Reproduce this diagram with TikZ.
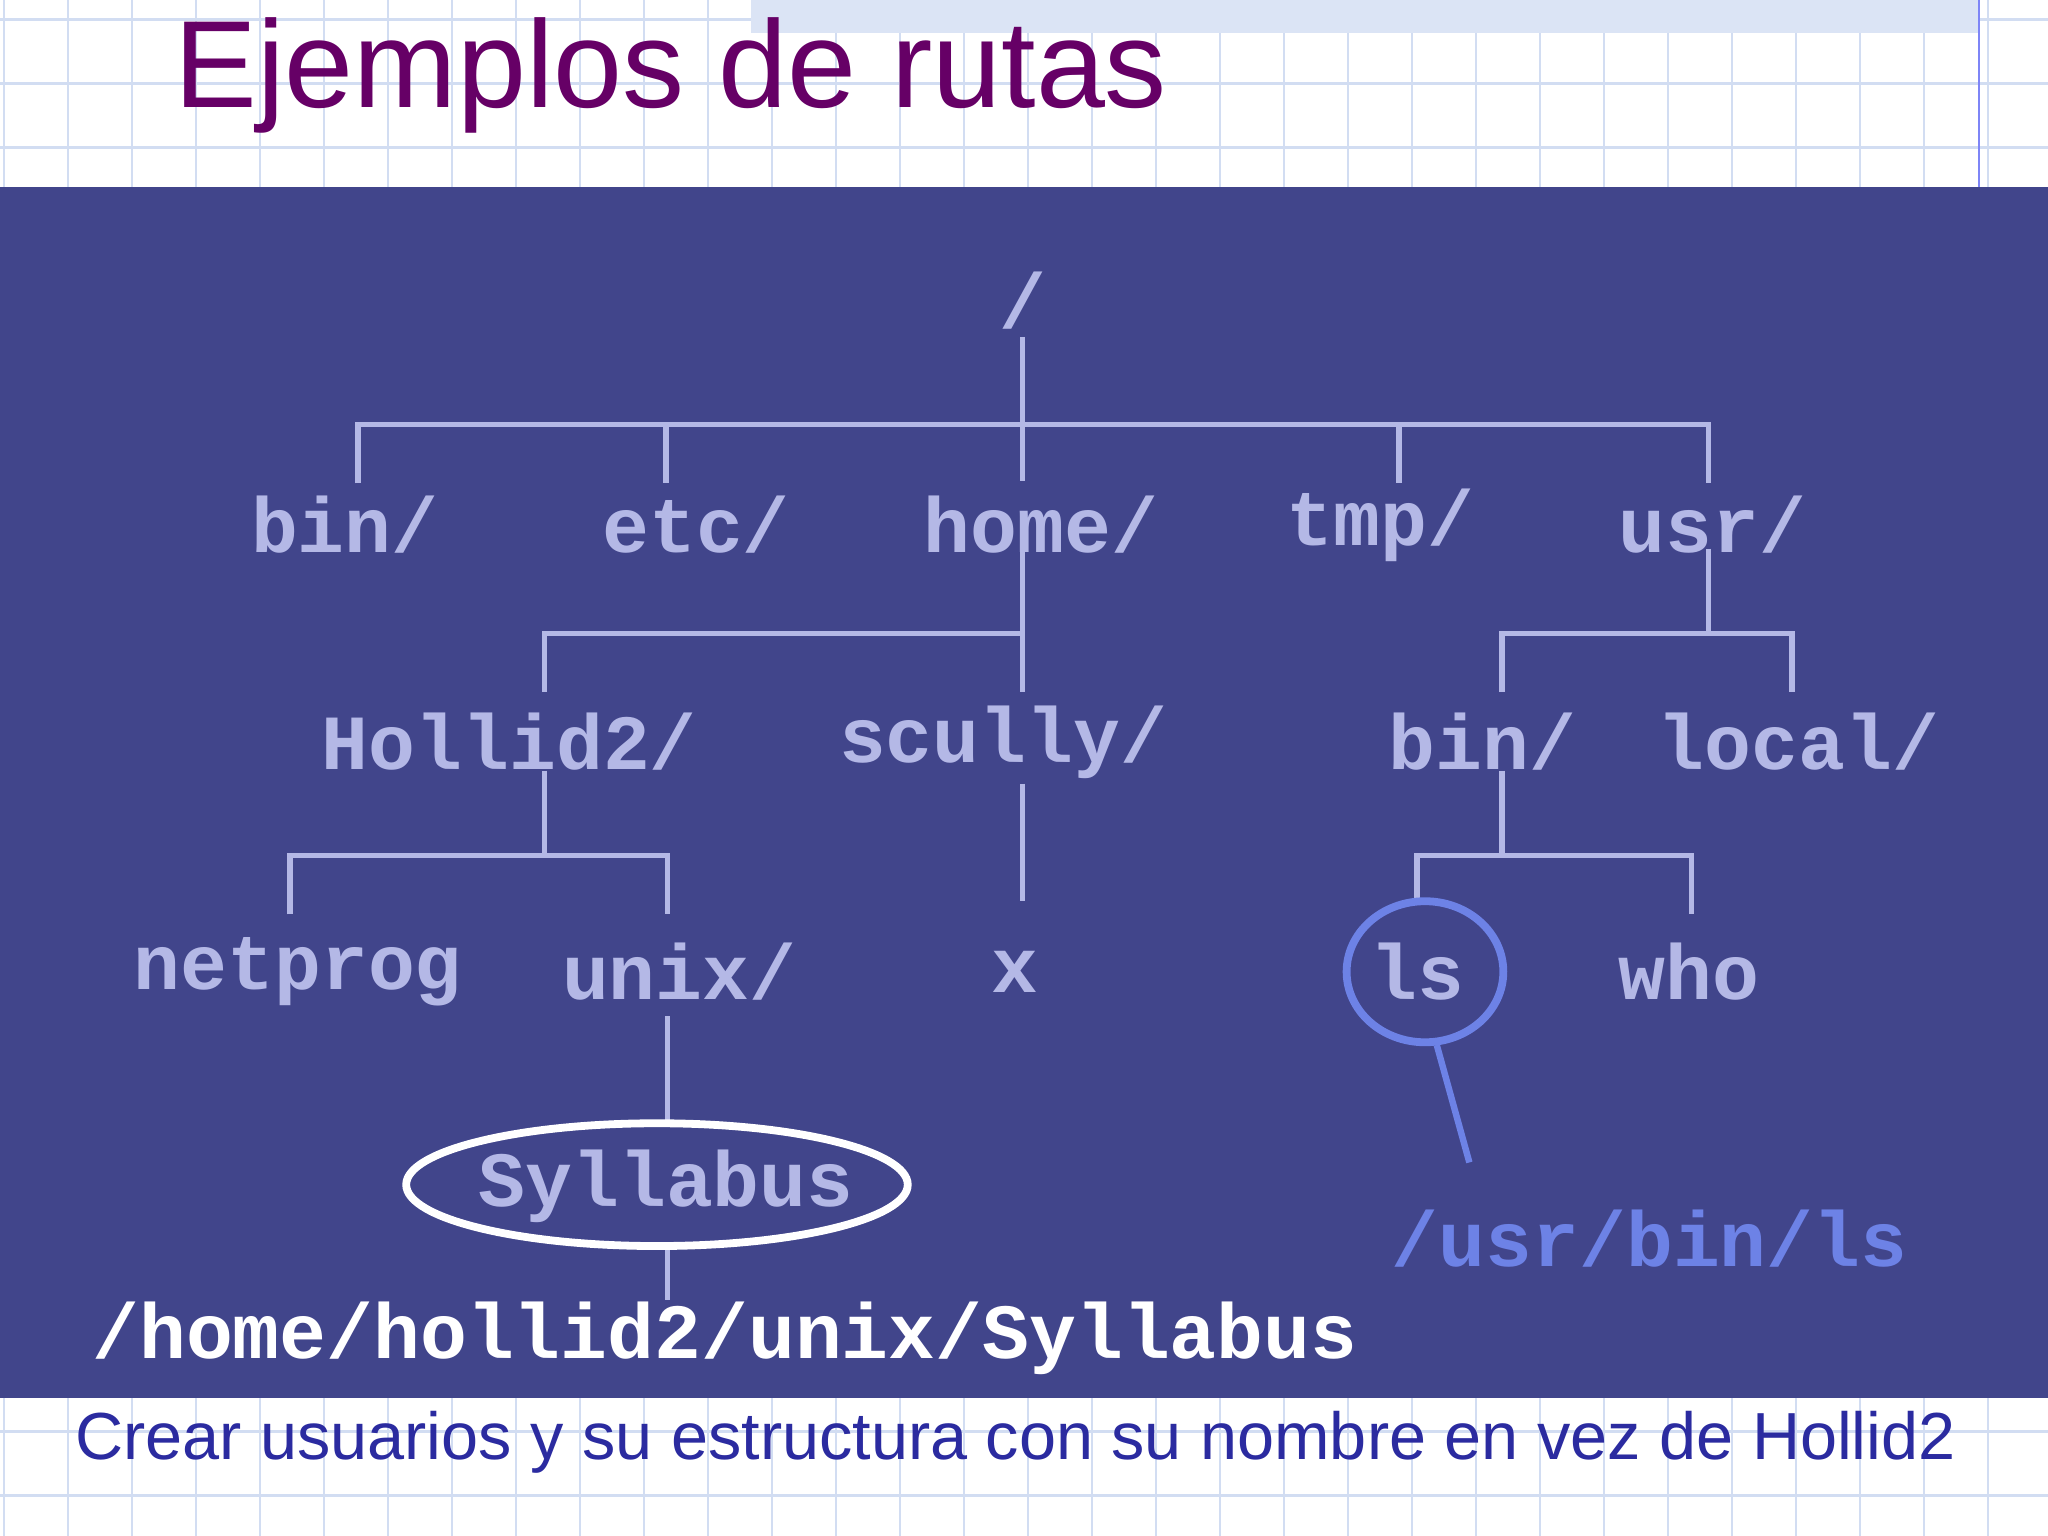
\documentclass[tikz,border=0pt]{standalone}
\usepackage{fontspec}
\setmainfont{Liberation Sans}
\newfontfamily\cour{Liberation Mono}
\definecolor{bgblue}{HTML}{41458B}
\definecolor{lav}{HTML}{B4B8E6}
\definecolor{lsblue}{HTML}{6D82E6}
\definecolor{gridc}{HTML}{D2DDF2}
\definecolor{titlec}{HTML}{660066}
\definecolor{subc}{HTML}{2B2BA0}
\tikzset{
 dir/.style={font=\cour\bfseries\fontsize{17}{17}\selectfont, text=lav, inner sep=0pt},
 tree/.style={draw=lav, line width=1.2pt},
}
\begin{document}
\begin{tikzpicture}[x=0.01cm,y=-0.01cm]
\useasboundingbox (0,0) rectangle (1568,1176);
\fill[white] (0,0) rectangle (1568,1176);
\foreach \x in {3,52,101,150,199,248,297,346,395,444,493,542,591,640,689,738,787,836,885,934,983,1032,1081,1130,1179,1228,1277,1326,1375,1424,1473,1522}
  \draw[gridc, line width=0.5pt] (\x,0) -- (\x,1176);
\foreach \y in {15,64,113,1096,1145}
  \draw[gridc, line width=0.5pt] (0,\y) -- (1568,\y);
\fill[gridc!80] (575,0) rectangle (1515,25);
\draw[gridc!60!blue, line width=0.4pt] (1515,0) -- (1515,143);
\node[anchor=west, text=titlec, font=\fontsize{27}{27}\selectfont, inner sep=0pt] (title) at (133,58) {Ejemplos de rutas};
\fill[bgblue] (0,143) rectangle (1568,1070);
\node[anchor=west, text=subc, font=\fontsize{14.5}{15}\selectfont, inner sep=0pt] (sub) at (57,1104) {Crear usuarios y su estructura con su nombre en vez de Hollid2};

% tree lines
\draw[tree] (783,258) -- (783,368);
\draw[tree] (274,370) -- (274,325) -- (1308,325) -- (1308,370);
\draw[tree] (510,325) -- (510,370);
\draw[tree] (1071,325) -- (1071,370);
\draw[tree] (783,420) -- (783,530);
\draw[tree] (417,530) -- (417,485) -- (783,485);
\draw[tree] (1308,420) -- (1308,485);
\draw[tree] (1150,530) -- (1150,485) -- (1372,485) -- (1372,530);
\draw[tree] (417,590) -- (417,655);
\draw[tree] (222,700) -- (222,655) -- (511,655) -- (511,700);
\draw[tree] (783,600) -- (783,690);
\draw[tree] (1150,590) -- (1150,655);
\draw[tree] (1085,690) -- (1085,655) -- (1295,655) -- (1295,700);
\draw[tree] (511,778) -- (511,860);
\draw[tree] (511,955) -- (511,995);

% nodes
\node[dir] (root) at (783,230) {/};
\node[dir] (bin) at (264,402) {bin/};
\node[dir] (etc) at (533,402) {etc/};
\node[dir] (home) at (797,402) {home/};
\node[dir] (tmp) at (1057,402) {tmp/};
\node[dir] (usr) at (1311,402) {usr/};
\node[dir] (hol) at (390,568) {Hollid2/};
\node[dir] (scully) at (768,568) {scully/};
\node[dir] (ubin) at (1135,568) {bin/};
\node[dir] (local) at (1377,568) {local/};
\node[dir] (netprog) at (228,744) {netprog};
\node[dir] (unix) at (520,744) {unix/};
\node[dir] (x) at (777,744) {x};
\node[dir] (ls) at (1085,744) {ls};
\node[dir] (who) at (1293,744) {who};
\node[dir] (syl) at (510,908) {Syllabus};
\draw[white, line width=1.7pt] (503,907) ellipse (192 and 47);
\draw[lsblue, line width=1.7pt] (1091,744) ellipse (60 and 54);
\coordinate (lsend) at (1125,890);
\draw[lsblue, line width=1.4pt] (1100,800) -- (lsend);
\node[dir, text=lsblue, anchor=west] (lspath) at (1065,948) {/usr/bin/ls};
\node[dir, text=white, anchor=west] (sylpath) at (70,1025) {/home/hollid2/unix/Syllabus};
\end{tikzpicture}
\end{document}
